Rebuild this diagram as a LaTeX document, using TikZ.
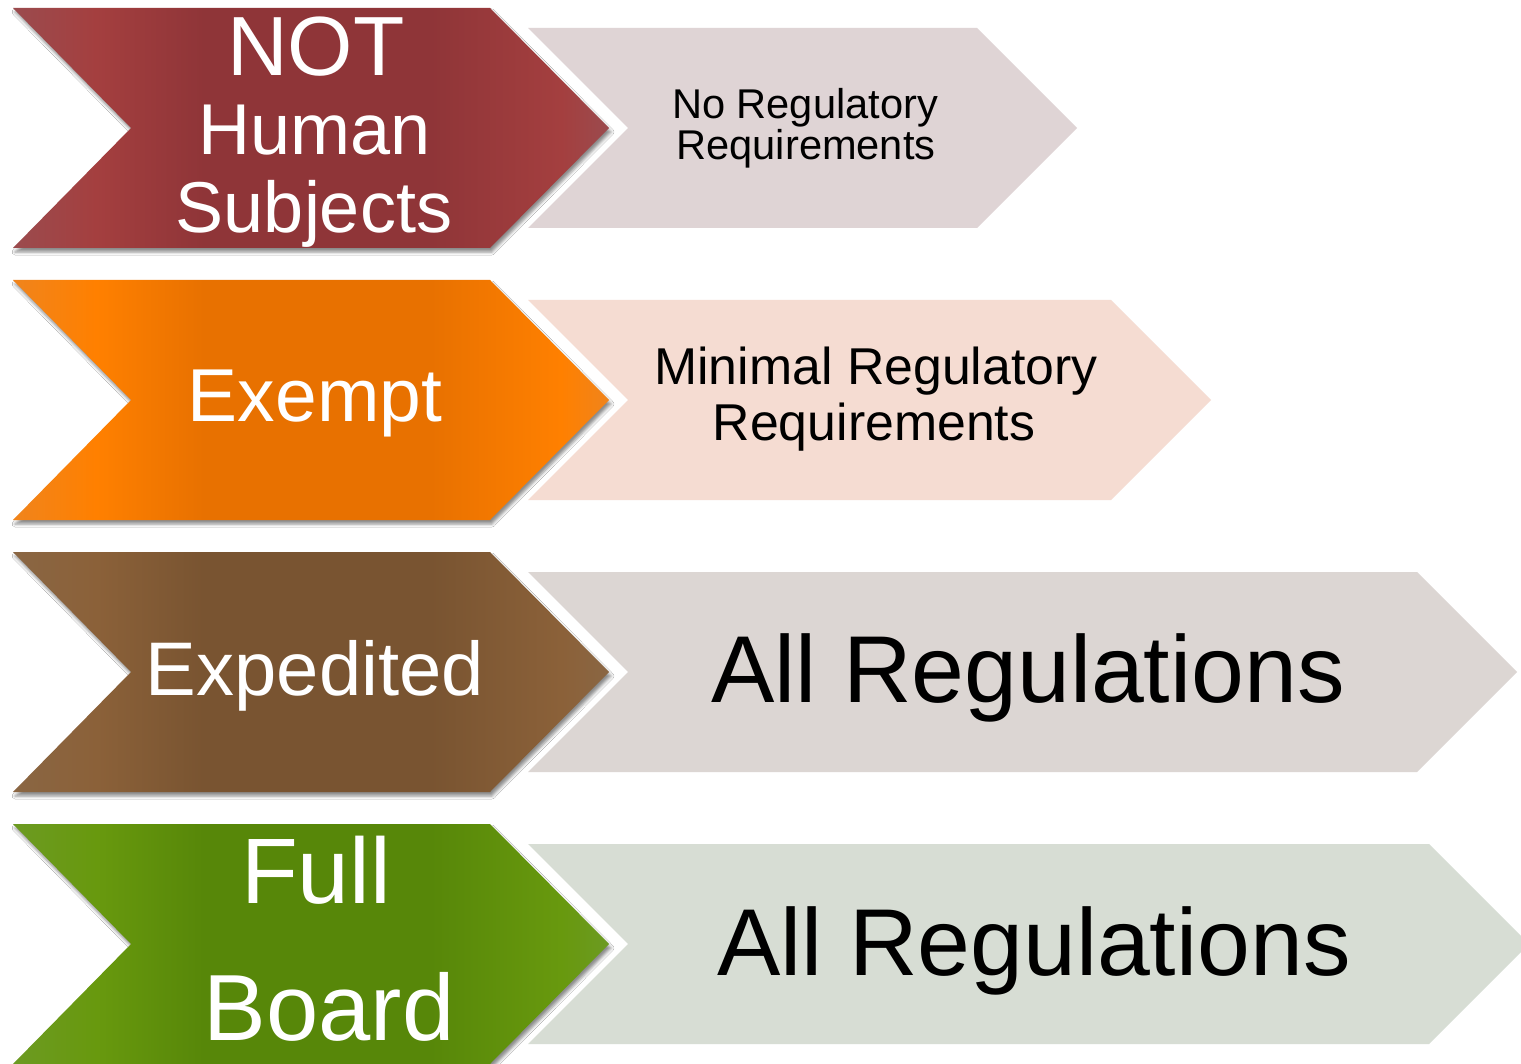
\documentclass[tikz,border=0pt]{standalone}
\usepackage{fontspec}
\setmainfont{Liberation Sans}
\usetikzlibrary{shadows.blur}

% band colours: edge tone, bright tone, deep tone
\definecolor{rA}{HTML}{9B4B4E}\definecolor{rB}{HTML}{A43F3F}\definecolor{rC}{HTML}{8F3538}
\definecolor{oA}{HTML}{F0841C}\definecolor{oB}{HTML}{FF8000}\definecolor{oC}{HTML}{E87100}
\definecolor{bA}{HTML}{8A6643}\definecolor{bB}{HTML}{8B6139}\definecolor{bC}{HTML}{795431}
\definecolor{gA}{HTML}{6C9A22}\definecolor{gB}{HTML}{68990E}\definecolor{gC}{HTML}{578709}
% pale arrow fills
\definecolor{pRed}{HTML}{DFD4D5}
\definecolor{pOrange}{HTML}{F5DCD2}
\definecolor{pBrown}{HTML}{DCD6D3}
\definecolor{pGreen}{HTML}{D7DDD4}

\pgfdeclarehorizontalshading{redband}{100bp}{color(0bp)=(rA); color(25bp)=(rA); color(32bp)=(rB); color(41bp)=(rC); color(60bp)=(rC); color(71bp)=(rB); color(75bp)=(rA); color(100bp)=(rA)}
\pgfdeclarehorizontalshading{orangeband}{100bp}{color(0bp)=(oA); color(25bp)=(oA); color(32bp)=(oB); color(41bp)=(oC); color(60bp)=(oC); color(71bp)=(oB); color(75bp)=(oA); color(100bp)=(oA)}
\pgfdeclarehorizontalshading{brownband}{100bp}{color(0bp)=(bA); color(25bp)=(bA); color(32bp)=(bB); color(41bp)=(bC); color(60bp)=(bC); color(71bp)=(bB); color(75bp)=(bA); color(100bp)=(bA)}
\pgfdeclarehorizontalshading{greenband}{100bp}{color(0bp)=(gA); color(25bp)=(gA); color(32bp)=(gB); color(41bp)=(gC); color(60bp)=(gC); color(71bp)=(gB); color(75bp)=(gA); color(100bp)=(gA)}

\begin{document}
\begin{tikzpicture}[x=1pt,y=-1pt,
  chev/.style={blur shadow={shadow xshift=2pt, shadow yshift=-4pt, shadow blur radius=3pt, shadow opacity=45}},
  lbl/.style={text=white, anchor=base, inner sep=0pt, font=\fontsize{72}{72}\selectfont},
  dsc/.style={text=black, anchor=base, inner sep=0pt}]
\useasboundingbox (0,0) rectangle (1521,1064);
\clip (0,0) rectangle (1521,1064);
\fill[white] (0,0) rectangle (1521,1064);

% pale arrows on the right
\fill[pRed]    (528,28)  -- (977,28)   -- (1077,128) -- (977,228)   -- (528,228)  -- (628,128) -- cycle;
\fill[pOrange] (528,300) -- (1111,300) -- (1211,400) -- (1111,500)  -- (528,500)  -- (628,400) -- cycle;
\fill[pBrown]  (528,572) -- (1417,572) -- (1517,672) -- (1417,772)  -- (528,772)  -- (628,672) -- cycle;
\fill[pGreen]  (528,844) -- (1429,844) -- (1529,944) -- (1429,1044) -- (528,1044) -- (628,944) -- cycle;

% coloured chevrons on the left
\shade[shading=redband, chev]    (13,8)   -- (490,8)   -- (609,128) -- (490,248)  -- (13,248)  -- (131,128) -- cycle;
\shade[shading=orangeband, chev] (13,280) -- (490,280) -- (609,400) -- (490,520)  -- (13,520)  -- (131,400) -- cycle;
\shade[shading=brownband, chev]  (13,552) -- (490,552) -- (609,672) -- (490,792)  -- (13,792)  -- (131,672) -- cycle;
\shade[shading=greenband, chev]  (13,824) -- (490,824) -- (609,944) -- (490,1064) -- (13,1064) -- (131,944) -- cycle;

% chevron labels
\node[lbl, font=\fontsize{84}{84}\selectfont] (notA) at (316,76) {NOT};
\node[lbl] (notB) at (315,155) {Human};
\node[lbl] (notC) at (314,233) {Subjects};
\node[lbl, font=\fontsize{75}{75}\selectfont] (exempt) at (315,422) {Exempt};
\node[lbl, font=\fontsize{76}{76}\selectfont] (expedited) at (315,695) {Expedited};
\node[lbl, font=\fontsize{93}{93}\selectfont] (fullA) at (316,903) {Full};
\node[lbl, font=\fontsize{94}{94}\selectfont] (fullB) at (329,1040) {Board};

% requirement labels
\node[dsc, font=\fontsize{41.6}{41.6}\selectfont] (noA) at (805,119) {No Regulatory};
\node[dsc, font=\fontsize{41.6}{41.6}\selectfont] (noB) at (806,160) {Requirements};
\node[dsc, font=\fontsize{51.8}{51.8}\selectfont] (minA) at (876,385) {Minimal Regulatory};
\node[dsc, font=\fontsize{51.8}{51.8}\selectfont] (minB) at (874,440) {Requirements};
\node[dsc, font=\fontsize{95}{95}\selectfont] (allA) at (1028,702) {All Regulations};
\node[dsc, font=\fontsize{95}{95}\selectfont] (allB) at (1034,975) {All Regulations};
\end{tikzpicture}
\end{document}
